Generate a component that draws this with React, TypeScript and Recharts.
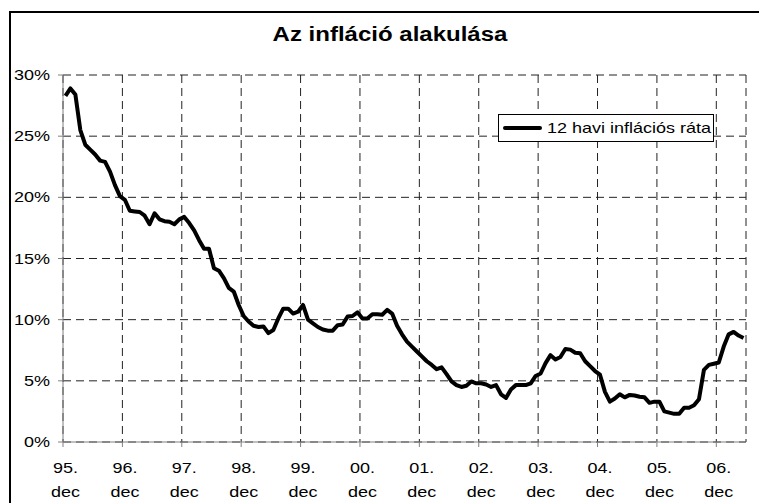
import React from "react";
import { LineChart, Line, XAxis, YAxis, CartesianGrid, Legend } from "recharts";

// 12 havi infláció, %, 1995 dec - 2007 máj
const dec1995 = [28.3];
const y1996 = [28.9, 28.4, 25.5, 24.3, 23.9, 23.5, 23.0, 22.9, 22.1, 21.0, 20.1, 19.8];
const y1997 = [18.9, 18.85, 18.8, 18.5, 17.8, 18.7, 18.2, 18.05, 18.0, 17.8, 18.2, 18.4];
const y1998 = [17.9, 17.3, 16.5, 15.8, 15.8, 14.2, 14.0, 13.4, 12.6, 12.3, 11.2, 10.3];
const y1999 = [9.85, 9.5, 9.4, 9.45, 8.9, 9.15, 10.1, 10.9, 10.9, 10.5, 10.65, 11.2];
const y2000 = [10.0, 9.7, 9.4, 9.2, 9.1, 9.1, 9.55, 9.6, 10.25, 10.3, 10.6, 10.1];
const y2001 = [10.1, 10.45, 10.45, 10.4, 10.8, 10.5, 9.5, 8.8, 8.2, 7.8, 7.4, 7.0];
const y2002 = [6.6, 6.3, 5.95, 6.1, 5.55, 4.95, 4.65, 4.5, 4.6, 4.95, 4.8, 4.8];
const y2003 = [4.7, 4.5, 4.65, 3.9, 3.6, 4.3, 4.65, 4.65, 4.65, 4.8, 5.4, 5.6];
const y2004 = [6.45, 7.1, 6.75, 6.95, 7.6, 7.55, 7.3, 7.25, 6.6, 6.2, 5.8, 5.5];
const y2005 = [4.1, 3.3, 3.55, 3.9, 3.65, 3.85, 3.8, 3.7, 3.65, 3.2, 3.3, 3.3];
const y2006 = [2.5, 2.4, 2.3, 2.3, 2.8, 2.8, 3.0, 3.5, 5.9, 6.3, 6.4, 6.5];
const y2007 = [7.8, 8.8, 9.0, 8.7, 8.5];

const yearLabels = ["95.", "96.", "97.", "98.", "99.", "00.", "01.", "02.", "03.", "04.", "05.", "06."];
const monthLabel = "dec";
const yTicks = [0, 5, 10, 15, 20, 25, 30];

const values = [
  ...dec1995, ...y1996, ...y1997, ...y1998, ...y1999, ...y2000,
  ...y2001, ...y2002, ...y2003, ...y2004, ...y2005, ...y2006, ...y2007,
];
const data = values.map((v, i) => ({ i, v }));
// category boundaries, one per december
const xTicks = yearLabels.map((_, k) => k * 12 - 0.5);

const FONT = "Arial, 'Liberation Sans', sans-serif";
const AXIS = "#808080";

function XTick({ x, y, payload }: any) {
  const k = Math.round((payload.value + 0.5) / 12);
  const cx = x + 2.5;
  return (
    <g>
      <text transform={`translate(${cx},${y + 26}) scale(1.2,1)`} textAnchor="middle" fontSize={15} fontFamily={FONT} fill="#000">
        {yearLabels[k]}
      </text>
      <text transform={`translate(${cx},${y + 50}) scale(1.2,1)`} textAnchor="middle" fontSize={15} fontFamily={FONT} fill="#000">
        {monthLabel}
      </text>
    </g>
  );
}

function YTick({ x, y, payload }: any) {
  return (
    <text transform={`translate(${x - 8},${y + 5}) scale(1.2,1)`} textAnchor="end" fontSize={15} fontFamily={FONT} fill="#000">
      {payload.value}%
    </text>
  );
}

function LegendBox() {
  return (
    <div
      style={{
        boxSizing: "border-box",
        width: 216,
        height: 28,
        border: "1px solid #000",
        background: "#fff",
        position: "relative",
        fontFamily: FONT,
      }}
    >
      <div style={{ position: "absolute", left: 4, top: 11, width: 39, height: 4, background: "#000", borderRadius: 2 }} />
      <div
        style={{
          position: "absolute",
          left: 48,
          top: 4,
          fontSize: 15,
          lineHeight: "18px",
          whiteSpace: "nowrap",
          transform: "scaleX(1.2)",
          transformOrigin: "left center",
        }}
      >
        12 havi inflációs ráta
      </div>
    </div>
  );
}

export default function App() {
  return (
    <div style={{ position: "absolute", left: 0, top: 0, width: 759, height: 503, overflow: "hidden", background: "#fff" }}>
      <div style={{ position: "absolute", left: 9, top: 11, width: 800, height: 600, border: "2px solid #000" }} />
      <div
        style={{
          position: "absolute",
          left: 390,
          top: 24,
          fontFamily: FONT,
          fontWeight: "bold",
          fontSize: 20,
          lineHeight: "20px",
          whiteSpace: "nowrap",
          transform: "translateX(-50%) scaleX(1.2)",
        }}
      >
        Az infláció alakulása
      </div>
      <div style={{ position: "absolute", left: 0, top: 0 }}>
        <LineChart width={759} height={503} data={data} margin={{ top: 75, right: 13, left: 10, bottom: 0 }}>
          <CartesianGrid stroke="#222" strokeDasharray="8 5" />
          <XAxis
            type="number"
            dataKey="i"
            domain={[-0.5, 137.5]}
            ticks={xTicks}
            interval={0}
            height={61}
            stroke={AXIS}
            tickLine={{ stroke: AXIS }}
            tickSize={5}
            tickMargin={0}
            tick={<XTick />}
          />
          <YAxis
            domain={[0, 30]}
            ticks={yTicks}
            interval={0}
            width={53}
            stroke={AXIS}
            tickLine={{ stroke: AXIS }}
            tickSize={5}
            tickMargin={0}
            tick={<YTick />}
          />
          <Legend
            layout="horizontal"
            verticalAlign="middle"
            align="center"
            content={() => <LegendBox />}
            wrapperStyle={{ left: 498, top: 114, width: 216, height: 28 }}
          />
          <Line
            type="linear"
            dataKey="v"
            stroke="#000"
            strokeWidth={4}
            strokeLinejoin="round"
            dot={false}
            isAnimationActive={false}
          />
        </LineChart>
      </div>
    </div>
  );
}
